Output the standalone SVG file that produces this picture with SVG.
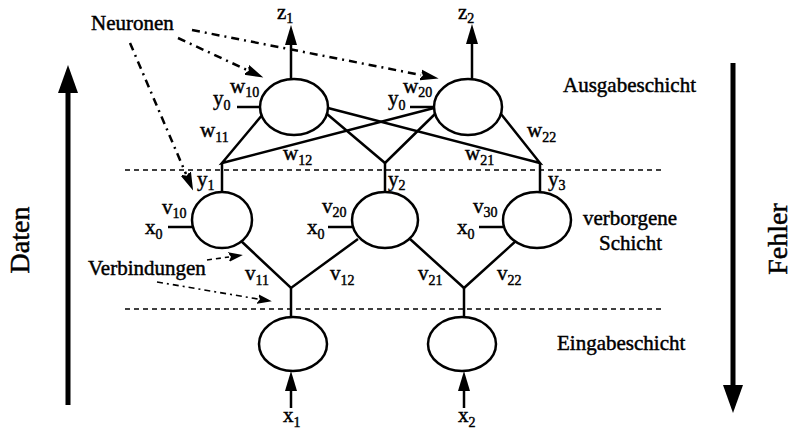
<svg xmlns="http://www.w3.org/2000/svg" width="795" height="430" viewBox="0 0 795 430">
<style>
text{font-family:"Liberation Serif","Times New Roman",serif;fill:#000;stroke:#000;stroke-width:0.45}
.t{font-size:21px}
.s{font-size:14px}
.big{font-size:28px}
.n{fill:#fff;stroke:#000;stroke-width:2.5}
.c{stroke:#000;stroke-width:2.5;fill:none}
.dash{stroke:#000;stroke-width:1.6;stroke-dasharray:5 4;fill:none}
.dd{stroke:#000;stroke-width:2.5;stroke-dasharray:8 5 2 5;fill:none}
.dd2{stroke:#000;stroke-width:1.6;stroke-dasharray:6 4 2 4;fill:none}
.dsh{stroke:#000;stroke-width:1.6;stroke-dasharray:5 4;fill:none}
.thick{stroke:#000;stroke-width:5;fill:none}
</style>
<defs>
<marker id="ah" markerUnits="userSpaceOnUse" markerWidth="22" markerHeight="14" refX="0" refY="6" orient="auto"><path d="M0,0 L20,6 L0,12 Z" fill="#000"/></marker>
<marker id="bh" markerUnits="userSpaceOnUse" markerWidth="30" markerHeight="22" refX="0" refY="10" orient="auto"><path d="M0,0 L28,10 L0,20 Z" fill="#000"/></marker>
<marker id="ph" markerUnits="userSpaceOnUse" markerWidth="22" markerHeight="14" refX="0" refY="6" orient="auto"><path d="M-2,0 L18,6 L-2,12 L2,6 Z" fill="#000"/></marker>
<marker id="sh" markerUnits="userSpaceOnUse" markerWidth="18" markerHeight="12" refX="0" refY="5" orient="auto"><path d="M-1,0 L14,5 L-1,10 L2,5 Z" fill="#000"/></marker>
</defs>

<g id="connectors">
  <line class="dash" x1="125" y1="170" x2="665" y2="170"/>
  <line class="dash" x1="125" y1="309" x2="665" y2="309"/>
  <line class="c" x1="291" y1="79" x2="291" y2="45" marker-end="url(#ah)"/>
  <line class="c" x1="472" y1="79" x2="472" y2="44" marker-end="url(#ah)"/>
  <line class="c" x1="237" y1="107" x2="260" y2="107"/>
  <line class="c" x1="410" y1="107" x2="434" y2="107"/>
  <polyline class="c" points="263,114 222,163 434,108"/>
  <line class="c" x1="222" y1="163" x2="222" y2="192"/>
  <polyline class="c" points="327,114 385,163 435,114"/>
  <line class="c" x1="385" y1="163" x2="385" y2="192"/>
  <polyline class="c" points="328,108 540,163 501,114"/>
  <line class="c" x1="540" y1="163" x2="540" y2="192"/>
  <line class="c" x1="168" y1="227" x2="193" y2="227"/>
  <line class="c" x1="328" y1="227" x2="353" y2="227"/>
  <line class="c" x1="479" y1="227" x2="504" y2="227"/>
  <polyline class="c" points="240,240 291,288 358,239"/>
  <line class="c" x1="291" y1="288" x2="291" y2="317"/>
  <polyline class="c" points="410,239 464,288 517,240"/>
  <line class="c" x1="464" y1="288" x2="464" y2="317"/>
  <line class="c" x1="291" y1="408" x2="291" y2="391" marker-end="url(#ah)"/>
  <line class="c" x1="464" y1="408" x2="464" y2="391" marker-end="url(#ah)"/>
  <line class="thick" x1="68" y1="405" x2="68" y2="93" marker-end="url(#bh)"/>
  <line class="thick" x1="733" y1="63" x2="733" y2="385" marker-end="url(#bh)"/>
  <line class="dd" x1="130" y1="43" x2="186" y2="174" marker-end="url(#ph)"/>
  <line class="dd" x1="178" y1="38" x2="247" y2="70" marker-end="url(#ph)"/>
  <line class="dd" x1="192" y1="30" x2="421" y2="75" marker-end="url(#ph)"/>
  <line class="dsh" x1="207" y1="260" x2="229" y2="257" marker-end="url(#sh)"/>
  <line class="dd2" x1="157" y1="282" x2="258" y2="299" marker-end="url(#sh)"/>
</g>

<g id="O1"><ellipse class="n" cx="294" cy="107" rx="34" ry="28"/></g>
<g id="O2"><ellipse class="n" cx="468" cy="107" rx="34" ry="28"/></g>
<g id="H1"><ellipse class="n" cx="222" cy="220" rx="30" ry="28"/></g>
<g id="H2"><ellipse class="n" cx="385" cy="220" rx="33" ry="28"/></g>
<g id="H3"><ellipse class="n" cx="537" cy="220" rx="34" ry="28"/></g>
<g id="I1"><ellipse class="n" cx="293" cy="344" rx="34" ry="27"/></g>
<g id="I2"><ellipse class="n" cx="462" cy="344" rx="34" ry="27"/></g>

<g id="labels">
  <text class="t" x="91" y="30">Neuronen</text>
  <text class="t" x="88" y="275">Verbindungen</text>
  <text class="t" x="563" y="92">Ausgabeschicht</text>
  <text class="t" x="583" y="225">verborgene</text>
  <text class="t" x="599" y="250">Schicht</text>
  <text class="t" x="557" y="350">Eingabeschicht</text>
  <text class="big" text-anchor="middle" transform="translate(29,240) rotate(-90)">Daten</text>
  <text class="big" text-anchor="middle" transform="translate(787,239) rotate(-90)">Fehler</text>

  <text class="t" x="277" y="19">z<tspan class="s" dy="4">1</tspan></text>
  <text class="t" x="458" y="19">z<tspan class="s" dy="4">2</tspan></text>
  <text class="t" x="230" y="93">w<tspan class="s" dy="4">10</tspan></text>
  <text class="t" x="213" y="105">y<tspan class="s" dy="5">0</tspan></text>
  <text class="t" x="200" y="137">w<tspan class="s" dy="5">11</tspan></text>
  <text class="t" x="283" y="160">w<tspan class="s" dy="5">12</tspan></text>
  <text class="t" x="388" y="105">y<tspan class="s" dy="5">0</tspan></text>
  <text class="t" x="403" y="93">w<tspan class="s" dy="4">20</tspan></text>
  <text class="t" x="465" y="160">w<tspan class="s" dy="5">21</tspan></text>
  <text class="t" x="527" y="137">w<tspan class="s" dy="5">22</tspan></text>
  <text class="t" x="197" y="186">y<tspan class="s" dy="4">1</tspan></text>
  <text class="t" x="388" y="186">y<tspan class="s" dy="4">2</tspan></text>
  <text class="t" x="548" y="186">y<tspan class="s" dy="4">3</tspan></text>
  <text class="t" x="162" y="214">v<tspan class="s" dy="4">10</tspan></text>
  <text class="t" x="145" y="234">x<tspan class="s" dy="5">0</tspan></text>
  <text class="t" x="322" y="213">v<tspan class="s" dy="4">20</tspan></text>
  <text class="t" x="307" y="234">x<tspan class="s" dy="5">0</tspan></text>
  <text class="t" x="473" y="213">v<tspan class="s" dy="4">30</tspan></text>
  <text class="t" x="457" y="234">x<tspan class="s" dy="5">0</tspan></text>
  <text class="t" x="245" y="280">v<tspan class="s" dy="5">11</tspan></text>
  <text class="t" x="330" y="280">v<tspan class="s" dy="5">12</tspan></text>
  <text class="t" x="418" y="280">v<tspan class="s" dy="5">21</tspan></text>
  <text class="t" x="497" y="280">v<tspan class="s" dy="5">22</tspan></text>
  <text class="t" x="283" y="422">x<tspan class="s" dy="5">1</tspan></text>
  <text class="t" x="458" y="422">x<tspan class="s" dy="5">2</tspan></text>
</g>
</svg>
